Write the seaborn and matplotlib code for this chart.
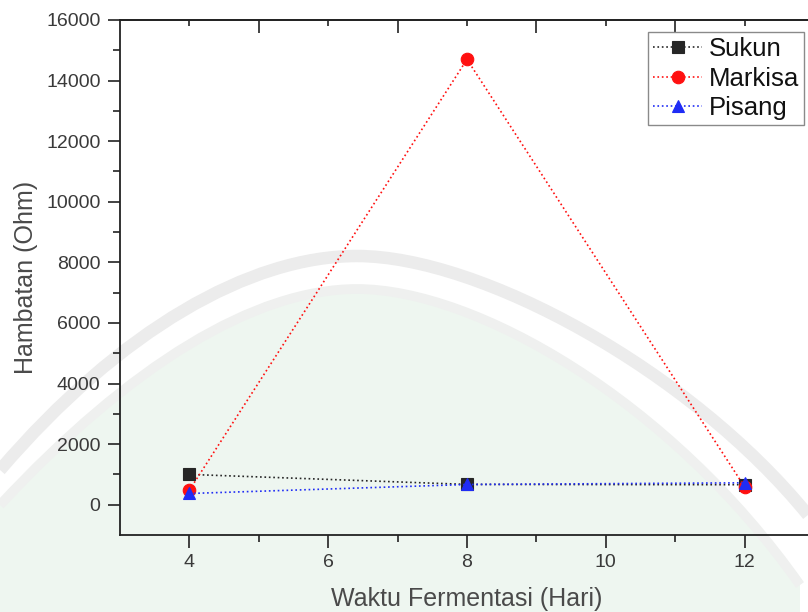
import matplotlib
matplotlib.use("Agg")
import matplotlib.pyplot as plt
import matplotlib.transforms as mtransforms
import seaborn as sns
import pandas as pd
from matplotlib.path import Path
from matplotlib.patches import PathPatch

# Fermentation time (days) and measured resistance (Ohm)
waktu = [4, 8, 12]
sukun = [1000, 670, 660]
markisa = [480, 14700, 590]
pisang = [370, 667, 722]

series_names = ["Sukun", "Markisa", "Pisang"]
series_colors = ["#262626", "#ff1010", "#1f2cf5"]
series_markers = ["s", "o", "^"]

sns.set_theme(style="white")
plt.rcParams["font.family"] = ["Liberation Sans", "DejaVu Sans"]

W, H = 808, 612
fig = plt.figure(figsize=(W / 100, H / 100), dpi=100)

# faint emblem behind the plot, drawn in pixel coordinates from the top-left
px = mtransforms.Affine2D().scale(1 / W, -1 / H).translate(0, 1) + fig.transFigure


def arc(p0, c1, c2, apex, d1, d2, p3):
    verts = [p0, c1, c2, apex, d1, d2, p3]
    codes = [Path.MOVETO] + [Path.CURVE4] * 6
    return verts, codes


inner_v, inner_c = arc((0, 505), (130, 365), (255, 289), (357, 289),
                       (475, 289), (670, 400), (800, 585))
fill_v = inner_v + [(800, 612), (0, 612), (0, 505)]
fill_c = inner_c + [Path.LINETO, Path.LINETO, Path.CLOSEPOLY]
outer_v, outer_c = arc((0, 470), (120, 330), (250, 256), (357, 256),
                       (480, 256), (690, 370), (808, 515))
emblem = [
    PathPatch(Path(fill_v, fill_c), facecolor="#eef6f0", edgecolor="none"),
    PathPatch(Path(inner_v, inner_c), facecolor="none", edgecolor="#eff0ef",
              linewidth=7, capstyle="butt"),
    PathPatch(Path(outer_v, outer_c), facecolor="none", edgecolor="#ececec",
              linewidth=9, capstyle="butt"),
]
for p in emblem:
    p.set_transform(px)
    p.set_zorder(-10)
    fig.add_artist(p)

ax = fig.add_axes([120 / W, 77 / H, 694 / W, 515 / H])
ax.patch.set_alpha(0)

df = pd.DataFrame({
    "Waktu": waktu * 3,
    "Hambatan": sukun + markisa + pisang,
    "Sampel": sum([[n] * len(waktu) for n in series_names], []),
})

for name, color, marker in zip(series_names, series_colors, series_markers):
    sub = df[df["Sampel"] == name]
    sns.lineplot(data=sub, x="Waktu", y="Hambatan", ax=ax, color=color,
                 linestyle=":", linewidth=1.2, marker=marker, markersize=9,
                 markeredgecolor=color, markeredgewidth=0.8, label=name)

ax.set_xlim(3, 13)
ax.set_ylim(-1000, 16000)
ax.set_xticks([4, 6, 8, 10, 12])
ax.set_xticks([5, 7, 9, 11], minor=True)
ax.set_yticks(range(0, 16001, 2000))
ax.set_yticks(range(1000, 16000, 2000), minor=True)

for side in ["left", "bottom", "top"]:
    ax.spines[side].set_color("#222222")
    ax.spines[side].set_linewidth(1.3)

ax.tick_params(axis="both", which="major", direction="out", length=9, width=1.2,
               color="#222222", labelsize=14, labelcolor="#3a3a3a", pad=5,
               bottom=True, left=True, top=False, right=False)
ax.tick_params(axis="both", which="minor", direction="out", length=5, width=1.2,
               color="#222222", bottom=True, left=True, top=False, right=False)

# inward ticks along the top edge
top = ax.secondary_xaxis("top")
top.set_xticks([5, 7, 9, 11])
top.set_xticks([4, 6, 8, 10, 12], minor=True)
top.tick_params(which="major", direction="in", length=9, width=1.2,
                color="#222222", labeltop=False)
top.tick_params(which="minor", direction="in", length=4, width=1.2,
                color="#222222", labeltop=False)
top.spines["top"].set_color("#222222")
top.spines["top"].set_linewidth(1.3)

ax.set_xlabel("Waktu Fermentasi (Hari)", fontsize=18, color="#4a4a4a", labelpad=11)
ax.set_ylabel("Hambatan (Ohm)", fontsize=18, color="#4a4a4a", labelpad=6)

leg = ax.legend(loc="upper right", bbox_to_anchor=(684 / 694, 0.977),
                fontsize=18.5, frameon=True, fancybox=False, handlelength=1.9,
                handletextpad=0.25, borderpad=0.2, labelspacing=0.22,
                borderaxespad=0)
leg.get_frame().set_edgecolor("#8a8a8a")
leg.get_frame().set_linewidth(1.0)
leg.get_frame().set_facecolor("white")
leg.get_frame().set_alpha(1)
for txt in leg.get_texts():
    txt.set_color("#111111")

fig.savefig("out.png", dpi=100)
